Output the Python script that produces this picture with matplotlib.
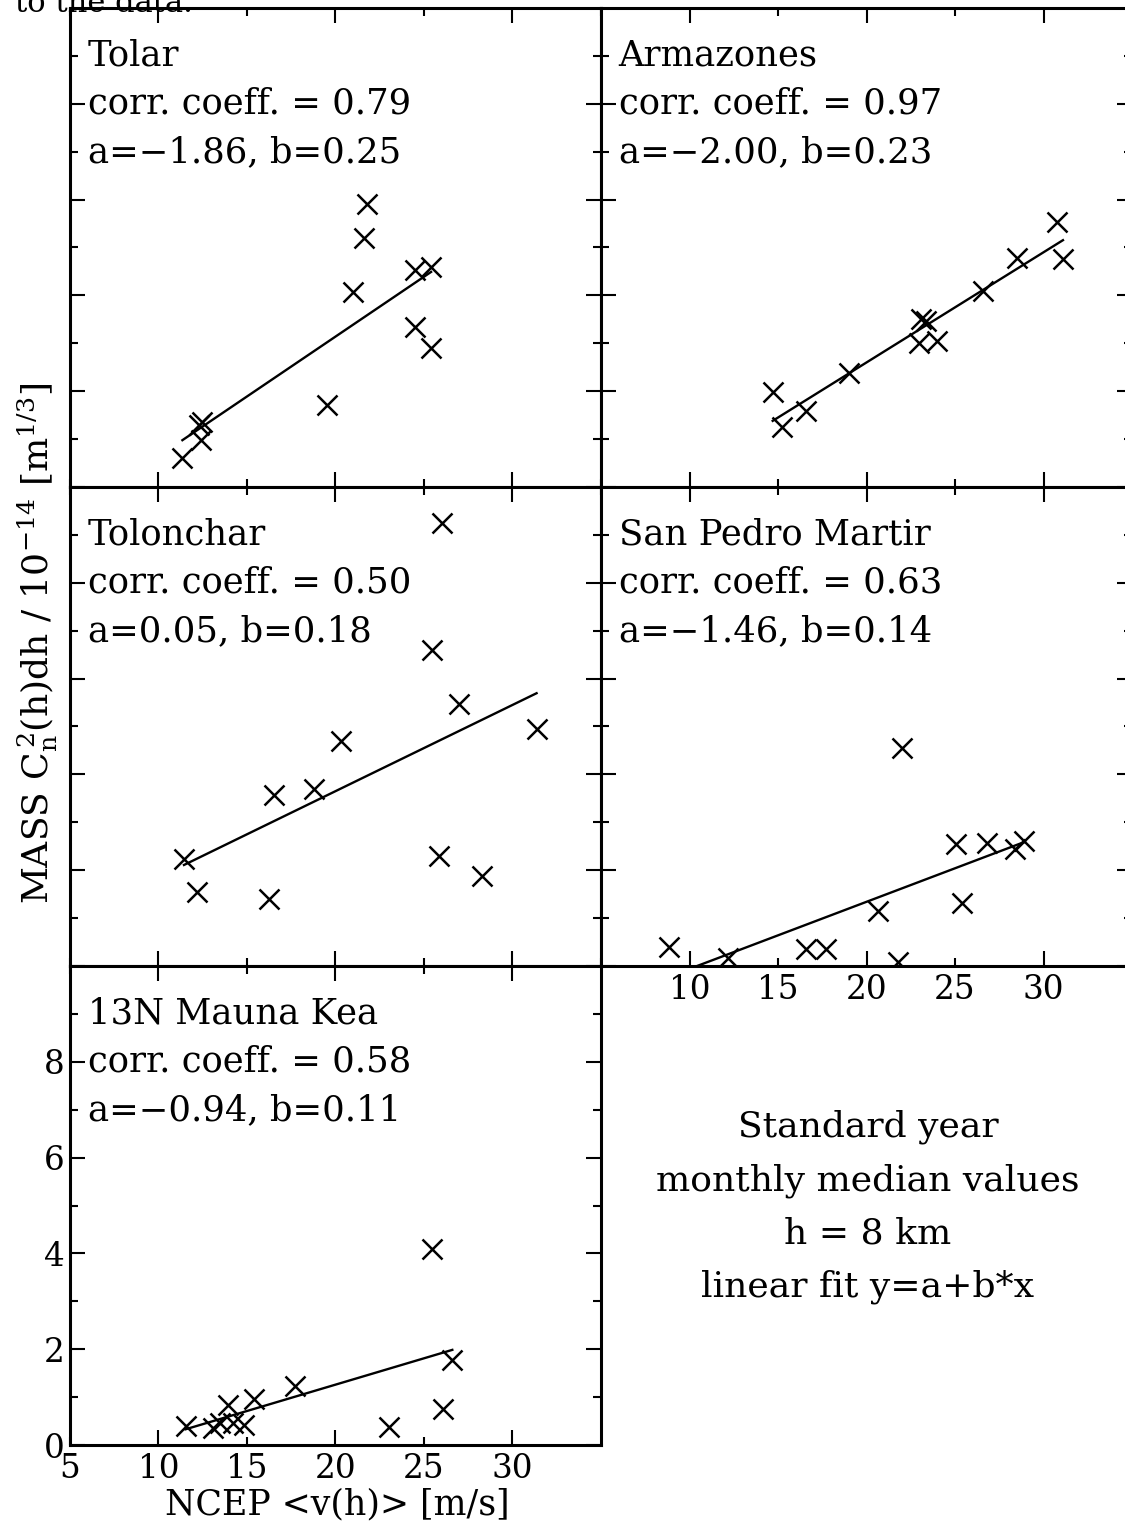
import numpy as np
import matplotlib
matplotlib.use("Agg")
import matplotlib.pyplot as plt

plt.rcParams['font.family'] = ['DejaVu Serif']
plt.rcParams['mathtext.fontset'] = 'dejavuserif'

# ---- data (x: NCEP <v(h)> [m/s], y: MASS integral) ----
tolar_x = [11.35, 12.3, 12.45, 12.4, 19.5, 21.0, 21.6, 21.76, 24.5, 24.5, 25.4, 25.4]
tolar_y = [0.60, 1.30, 1.35, 0.98, 1.72, 4.07, 5.20, 5.90, 4.53, 3.35, 4.60, 2.90]
tolar_ab = (-1.86, 0.25)
tolar_r = 0.79

arma_x = [14.7, 15.2, 16.6, 19.0, 22.97, 23.1, 23.35, 24.0, 26.6, 28.5, 30.74, 31.1]
arma_y = [1.99, 1.26, 1.58, 2.39, 3.00, 3.50, 3.46, 3.04, 4.09, 4.78, 5.54, 4.76]
arma_ab = (-2.00, 0.23)
arma_r = 0.97

tolon_x = [11.44, 12.2, 16.27, 16.5, 18.77, 20.3, 25.45, 25.87, 26.0, 27.0, 28.3, 31.36]
tolon_y = [2.24, 1.54, 1.40, 3.58, 3.70, 4.69, 6.60, 2.29, 9.25, 5.48, 1.88, 4.94]
tolon_ab = (0.05, 0.18)
tolon_r = 0.50

spm_x = [8.82, 12.2, 16.6, 17.7, 20.64, 21.8, 21.99, 25.06, 25.4, 26.8, 28.4, 28.9]
spm_y = [0.39, 0.16, 0.36, 0.36, 1.14, 0.09, 4.55, 2.55, 1.31, 2.57, 2.45, 2.60]
spm_ab = (-1.46, 0.14)
spm_r = 0.63

mk_x = [11.53, 13.1, 13.5, 13.9, 14.2, 14.85, 15.4, 17.7, 23.0, 25.45, 26.1, 26.6]
mk_y = [0.40, 0.35, 0.45, 0.84, 0.45, 0.42, 0.96, 1.23, 0.38, 4.09, 0.75, 1.78]
mk_ab = (-0.94, 0.11)
mk_r = 0.58

W, H = 1125, 1522
fig = plt.figure(figsize=(W / 100, H / 100), dpi=100)

col_left = [70, 601]
row_top = [8, 487, 966]
pw, ph = 531, 479
FS = 25.5


def fmt(v):
    return ('%.2f' % v).replace('-', '\u2212')


def panel(col, row, name, xs, ys, ab, r, xlab=None, ylab=False):
    x0 = col_left[col] / W
    y0 = 1 - (row_top[row] + ph) / H
    ax = fig.add_axes([x0, y0, pw / W, ph / H])
    ax.set_xlim(5, 35)
    ax.set_ylim(0, 10)
    ax.plot(xs, ys, 'x', color='k', ms=15, mew=1.8)
    a, b = ab
    xl = np.array([min(xs), max(xs)])
    ax.plot(xl, a + b * xl, color='k', lw=1.7)
    ax.set_xticks([10, 20, 30])
    ax.set_xticks([5, 15, 25], minor=True)
    ax.set_yticks([0, 2, 4, 6, 8])
    ax.set_yticks([1, 3, 5, 7, 9], minor=True)
    ax.tick_params(which='both', direction='in', top=True, right=True,
                   width=1.5, labelsize=23.5, color='k')
    ax.tick_params(which='major', length=11)
    ax.tick_params(which='minor', length=6)
    ax.tick_params(axis='x', which='both', pad=6)
    ax.tick_params(axis='y', which='both', pad=4)
    if xlab is None:
        ax.tick_params(axis='x', which='both', labelbottom=False)
    else:
        ax.set_xticklabels([str(v) for v in (10, 20, 30)])
        ax.set_xticklabels(xlab, minor=True)
    if not ylab:
        ax.tick_params(axis='y', which='both', labelleft=False)
    else:
        ax.set_yticklabels(['0', '2', '4', '6', '8'])
    for s in ax.spines.values():
        s.set_linewidth(2.2)
    ax.text(6.0, 9.0, name, fontsize=FS, va='center')
    ax.text(6.0, 8.0, 'corr. coeff. = %.2f' % r, fontsize=FS, va='center')
    ax.text(6.0, 7.0, 'a=%s, b=%s' % (fmt(a), fmt(b)), fontsize=FS, va='center')
    return ax


panel(0, 0, 'Tolar', tolar_x, tolar_y, tolar_ab, tolar_r)
panel(1, 0, 'Armazones', arma_x, arma_y, arma_ab, arma_r)
panel(0, 1, 'Tolonchar', tolon_x, tolon_y, tolon_ab, tolon_r)
panel(1, 1, 'San Pedro Martir', spm_x, spm_y, spm_ab, spm_r, xlab=['', '15', '25'])
panel(0, 2, '13N Mauna Kea', mk_x, mk_y, mk_ab, mk_r, xlab=['5', '15', '25'], ylab=True)

# bottom-right legend text
info = ['Standard year', 'monthly median values', 'h = 8 km', 'linear fit y=a+b*x']
for i, t in enumerate(info):
    fig.text(868 / W, 1 - (1127 + 53.3 * i) / H, t, fontsize=26, ha='center', va='center')

fig.text(337 / W, 1 - 1504 / H, 'NCEP <v(h)> [m/s]', fontsize=25, ha='center', va='center')
fig.text(38 / W, 1 - 643 / H,
         r'MASS C$_\mathrm{n}^{\,\mathrm{2}}$(h)dh / 10$^{-14}$ [m$^{1/3}$]',
         fontsize=26, rotation=90, ha='center', va='center')

# caption line cut off at top of page
fig.text(15 / W, 1 - 12 / H, 'to the data.', fontsize=22, ha='left', va='baseline')

fig.savefig('out.png', dpi=100)
